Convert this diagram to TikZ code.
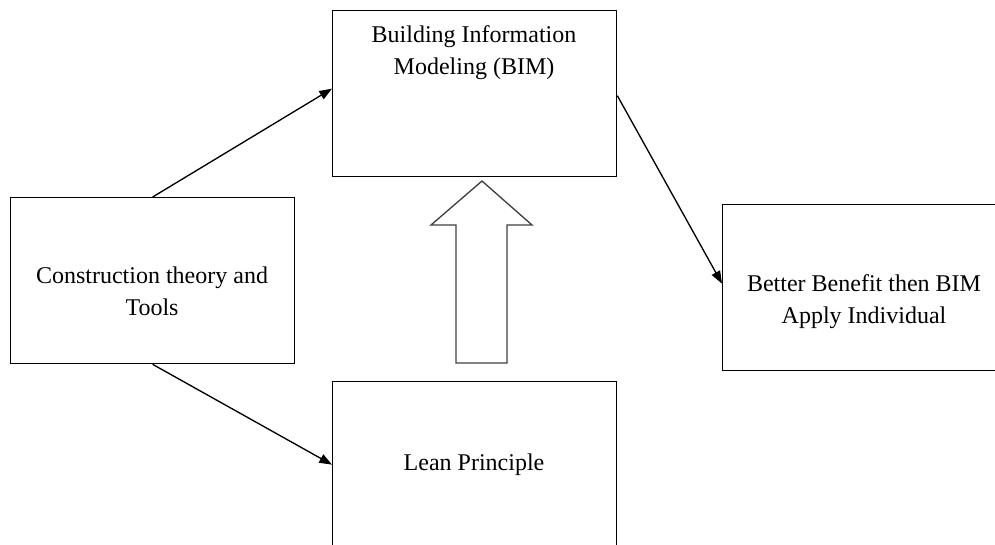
\documentclass[tikz,border=0pt]{standalone}
\usepackage{fontspec}
\setmainfont{Liberation Serif}
\usetikzlibrary{arrows.meta}
\begin{document}
\begin{tikzpicture}[x=0.75pt,y=-0.75pt,
  box/.style={draw=black,line width=1pt,minimum width=213pt,minimum height=124.5pt,inner sep=0pt,anchor=north west},
  txt/.style={align=center,font=\fontsize{18}{24}\selectfont,inner sep=0pt},
  conn/.style={line width=1pt,-{Triangle[length=9.5pt,width=7pt]}},
  bigarrow/.style={draw=black!75,line width=1pt,fill=white}]
\useasboundingbox (0,0) rectangle (995,545);
\clip (0,0) rectangle (995,545);
\node[box] (bim) at (332,10) {};
\node[box] (cons) at (10,197) {};
\node[box] (better) at (722,204) {};
\node[box] (lean) at (332,381) {};
\node[txt] (bimt) at (474,53) {Building Information\\Modeling (BIM)};
\node[txt] (const) at (152,291) {Construction theory and\\Tools};
\node[txt] (bettert) at (864,302) {Better Benefit then BIM\\Apply Individual};
\node[txt] (leant) at (474,465) {Lean Principle};
\draw[bigarrow] (456,363) -- (456,225) -- (431,225) -- (482,181) -- (532,225) -- (507,225) -- (507,363) -- cycle;
\draw[conn] (cons.north) -- ([yshift=3.75pt]bim.west);
\draw[conn] (cons.south) -- (lean.west);
\draw[conn] ([yshift=-1.5pt]bim.east) -- ([yshift=3pt]better.west);
\end{tikzpicture}
\end{document}
